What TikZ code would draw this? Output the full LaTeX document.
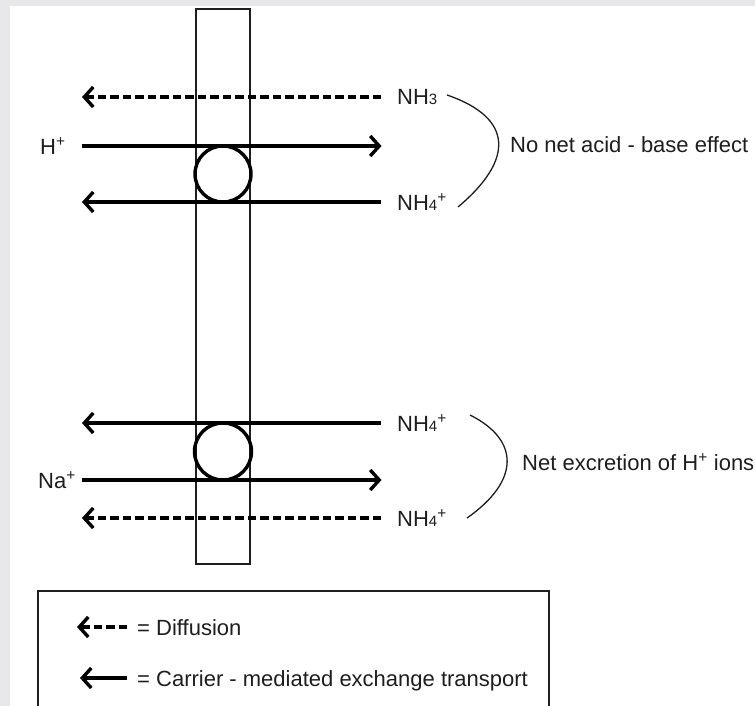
\documentclass[tikz,border=0pt]{standalone}
\usepackage{fontspec}
\setmainfont{Liberation Sans}
\usepackage{tikz}
\usetikzlibrary{calc}
\usetikzlibrary{arrows.meta}
\usetikzlibrary{positioning}
\definecolor{frame}{RGB}{232,231,234}
\definecolor{ink}{RGB}{30,30,30}
\newcommand\ionnum[1]{{\fontsize{15}{15}\selectfont #1}}

\begin{document}
\begin{tikzpicture}[
    x=1pt, y=-1pt,
    ionlabel/.style={
        inner sep=0pt,
        anchor=west,
        text=ink,
        font=\fontsize{22}{26}\selectfont,
        text height=16pt,
        text depth=0pt,
    },
    carrier/.style={line width=3.4pt, -{Straight Barb[length=9pt,width=20pt]}},
    diffusion/.style={carrier, dash pattern=on 8.5pt off 4pt},
    brace/.style={line width=1.3pt, ink},
]
    \useasboundingbox (0,0) rectangle (755,706);
    \fill[frame] (0,0) rectangle (755,706);
    \fill[white] (9.5,6) rectangle (755,706);

    % membrane
    \node (membrane) at (223,286.5) [draw=ink,line width=1.3pt,inner sep=0pt,minimum width=54pt,minimum height=555pt] {};

    \coordinate (leftend) at (82,0);
    \coordinate (rightend) at (381.5,0);

    % ammonia / H+ exchange
    \node[ionlabel] (nh3) at (397,97) {NH\ionnum{3}};
    \node[ionlabel] (hplus) at (40,146) {H\textsuperscript{+}};
    \node[ionlabel] (nh4a) at (397,202) {NH\ionnum{4}\textsuperscript{+}};
    \draw[diffusion] ([xshift=-16pt]nh3.west) -- (nh3.west -| leftend);
    \draw[carrier] (hplus.west -| leftend) -- (hplus.west -| rightend);
    \draw[carrier] ([xshift=-16pt]nh4a.west) -- (nh4a.west -| leftend);
    \node (pump1) at (223,174) [circle,draw,line width=3.4pt,minimum size=56pt,inner sep=0pt] {};

    \draw[brace] (447,95) .. controls (514,118) and (514,160) .. (458,207);
    \node[ionlabel] (neutral) at (510,145) {No net acid - base effect};

    % ammonium / Na+ exchange
    \node[ionlabel] (nh4b) at (397,423) {NH\ionnum{4}\textsuperscript{+}};
    \node[ionlabel] (naplus) at (38,480) {Na\textsuperscript{+}};
    \node[ionlabel] (nh4c) at (397,518) {NH\ionnum{4}\textsuperscript{+}};
    \draw[carrier] ([xshift=-16pt]nh4b.west) -- (nh4b.west -| leftend);
    \draw[carrier] (naplus.west -| leftend) -- (naplus.west -| rightend);
    \draw[diffusion] ([xshift=-16pt]nh4c.west) -- (nh4c.west -| leftend);
    \node (pump2) at (223,451.5) [circle,draw,line width=3.4pt,minimum size=57pt,inner sep=0pt] {};

    \draw[brace] (470,415) .. controls (520,440) and (520,481) .. (467,518);
    \node[ionlabel] (excretion) at (522,462) {Net excretion of H\textsuperscript{+} ions};

    % legend
    \draw[ink,line width=1.3pt] (38,591) rectangle (549,720);
    \node[ionlabel] (diffkey) at (137,627) {= Diffusion};
    \node[ionlabel] (carrkey) at (137,678) {= Carrier - mediated exchange transport};
    \draw[diffusion] ([xshift=-10pt]diffkey.west) -- ++(-50,0);
    \draw[carrier] ([xshift=-10pt]carrkey.west) -- ++(-47,0);
\end{tikzpicture}
\end{document}
